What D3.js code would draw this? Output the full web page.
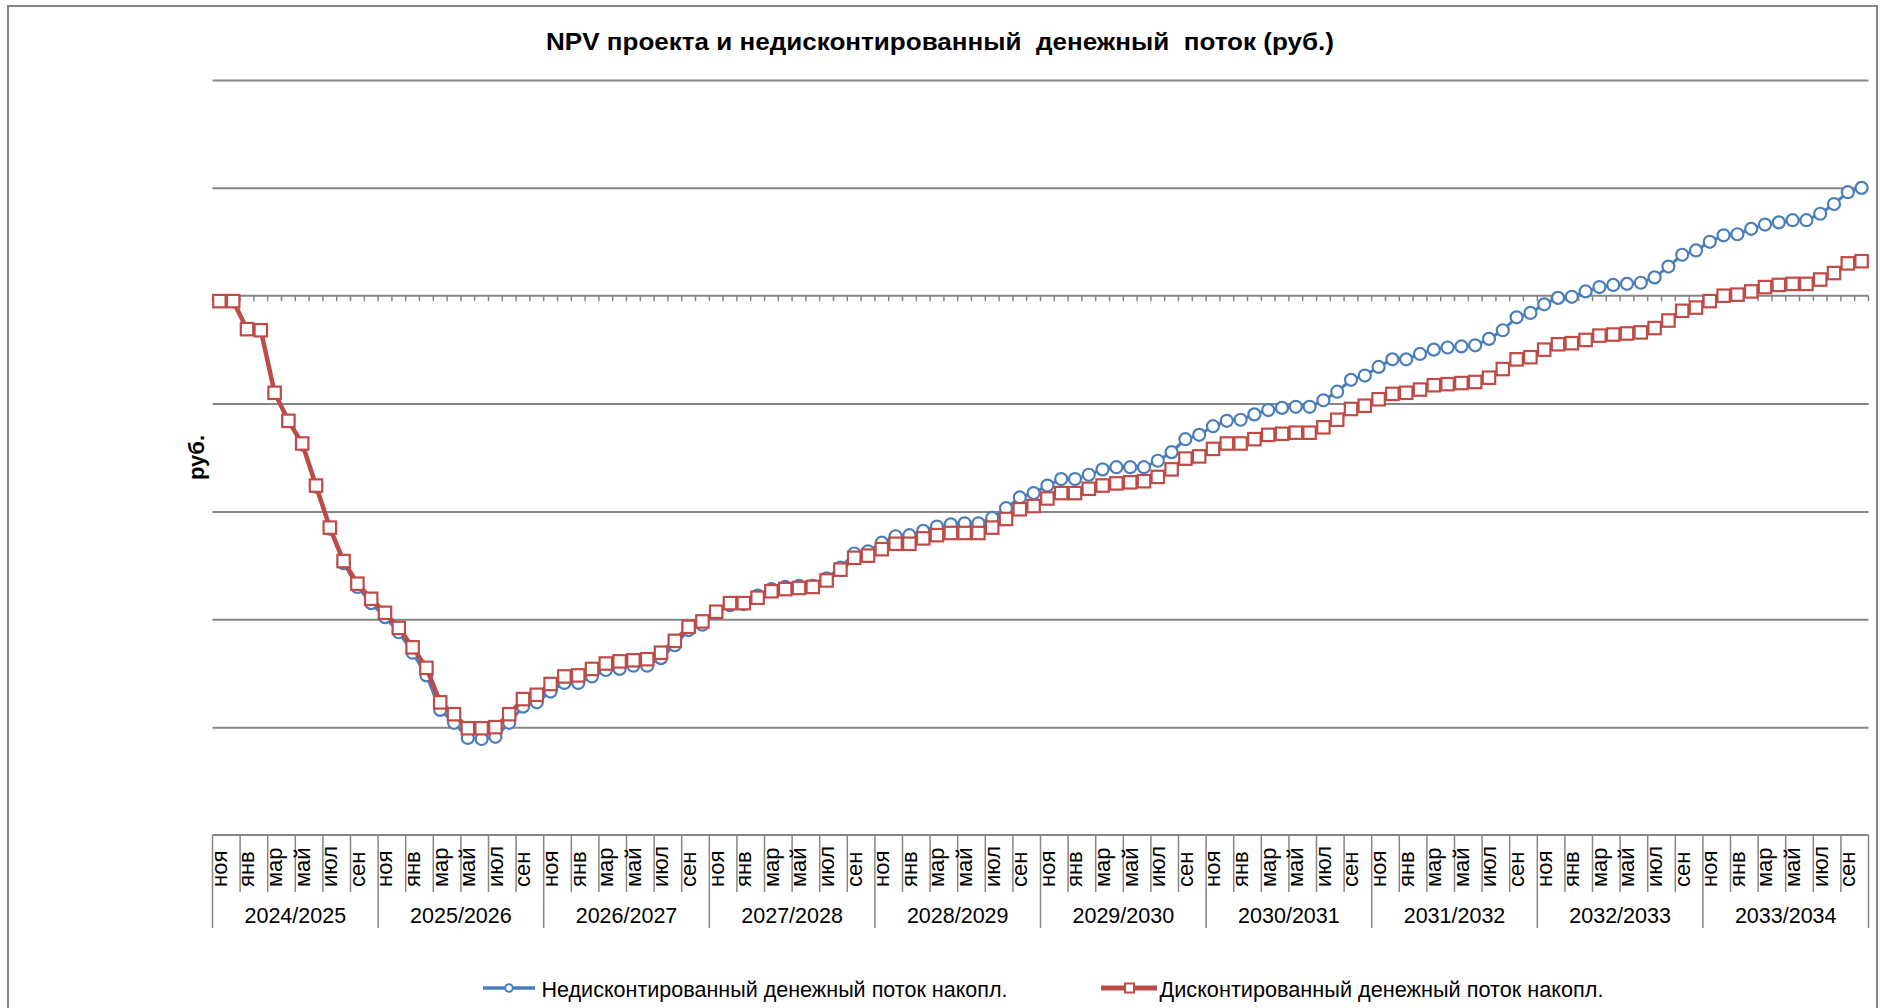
<!DOCTYPE html>
<html>
<head>
<meta charset="utf-8">
<script src="https://cdn.jsdelivr.net/npm/d3@7"></script>
<style>
  html, body { margin: 0; padding: 0; background: #ffffff; }
  svg { display: block; }
  text { font-family: "Liberation Sans", Arial, sans-serif; fill: #000; }
</style>
</head>
<body>
<svg id="chart" width="1880" height="1008"></svg>
<script>
// ---------------- DATA ----------------
const title = "NPV проекта и недисконтированный  денежный  поток (руб.)";
const yAxisTitle = "руб.";
const monthNames = ["ноя","дек","янв","фев","мар","апр","май","июн","июл","авг","сен","окт"];
const years = ["2024/2025","2025/2026","2026/2027","2027/2028","2028/2029",
               "2029/2030","2030/2031","2031/2032","2032/2033","2033/2034"];
const seriesNames = ["Недисконтированный денежный поток накопл.",
                     "Дисконтированный денежный поток накопл."];
// y gridlines (value units, labels hidden in the original)
const yTicks = [-5, -4, -3, -2, -1, 0, 1, 2];

// Cumulative undiscounted cash flow (120 months)
const undiscounted = [
 -0.05,-0.05,-0.31,-0.32,-0.90,-1.16,-1.38,-1.77,-2.16,-2.48,-2.70,-2.85,
 -2.98,-3.12,-3.31,-3.52,-3.84,-3.96,-4.10,-4.11,-4.09,-3.96,-3.81,-3.77,
 -3.67,-3.59,-3.59,-3.53,-3.47,-3.46,-3.43,-3.43,-3.36,-3.24,-3.10,-3.05,
 -2.94,-2.87,-2.86,-2.78,-2.72,-2.70,-2.69,-2.69,-2.62,-2.52,-2.39,-2.37,
 -2.29,-2.23,-2.22,-2.18,-2.14,-2.12,-2.11,-2.11,-2.06,-1.97,-1.87,-1.83,
 -1.76,-1.70,-1.70,-1.66,-1.61,-1.59,-1.59,-1.59,-1.53,-1.45,-1.33,-1.29,
 -1.21,-1.16,-1.15,-1.10,-1.06,-1.04,-1.03,-1.03,-0.97,-0.89,-0.78,-0.74,
 -0.66,-0.59,-0.59,-0.54,-0.50,-0.48,-0.47,-0.46,-0.40,-0.32,-0.20,-0.16,
 -0.08,-0.02,-0.01, 0.04, 0.08, 0.10, 0.11, 0.12, 0.17, 0.27, 0.38, 0.42,
  0.50, 0.56, 0.57, 0.62, 0.66, 0.68, 0.70, 0.70, 0.76, 0.85, 0.96, 1.00
];
// Cumulative discounted cash flow (120 months)
const discounted = [
 -0.05,-0.05,-0.31,-0.32,-0.90,-1.16,-1.37,-1.76,-2.15,-2.46,-2.67,-2.81,
 -2.94,-3.08,-3.26,-3.45,-3.77,-3.88,-4.01,-4.01,-4.00,-3.88,-3.74,-3.70,
 -3.60,-3.53,-3.52,-3.46,-3.41,-3.39,-3.38,-3.37,-3.31,-3.20,-3.07,-3.02,
 -2.93,-2.85,-2.85,-2.80,-2.74,-2.72,-2.71,-2.70,-2.64,-2.54,-2.43,-2.41,
 -2.35,-2.30,-2.30,-2.25,-2.22,-2.20,-2.20,-2.20,-2.15,-2.07,-1.98,-1.95,
 -1.88,-1.83,-1.83,-1.79,-1.76,-1.74,-1.73,-1.72,-1.68,-1.61,-1.51,-1.49,
 -1.42,-1.37,-1.37,-1.33,-1.29,-1.28,-1.27,-1.27,-1.22,-1.15,-1.05,-1.02,
 -0.96,-0.91,-0.90,-0.87,-0.83,-0.82,-0.81,-0.80,-0.76,-0.68,-0.59,-0.57,
 -0.50,-0.45,-0.44,-0.41,-0.37,-0.36,-0.35,-0.34,-0.30,-0.23,-0.14,-0.11,
 -0.05, 0.00, 0.01, 0.04, 0.08, 0.10, 0.11, 0.11, 0.15, 0.21, 0.30, 0.32
];

// ---------------- LAYOUT ----------------
const plot = { left: 212.5, right: 1868.5, top: 80, bottom: 835 };
const gridColor = "#868686";
const blue = "#4A7EBB", red = "#BE4B48";

const svg = d3.select("#chart");

const cats = d3.range(years.length * 12);
const x = d3.scaleBand().domain(cats).range([plot.left, plot.right]).padding(0);
const y = d3.scaleLinear().domain([d3.min(yTicks), d3.max(yTicks)]).range([plot.bottom, plot.top]);
const cx = i => x(i) + x.bandwidth() / 2;

// outer border
svg.append("rect")
  .attr("x", 8).attr("y", 6).attr("width", 1869).attr("height", 1100)
  .attr("fill", "none").attr("stroke", gridColor).attr("stroke-width", 2);

// title
svg.append("text")
  .attr("x", 940).attr("y", 50)
  .attr("text-anchor", "middle")
  .attr("font-size", 23).attr("font-weight", "bold")
  .style("white-space", "pre")
  .attr("textLength", 788).attr("lengthAdjust", "spacingAndGlyphs")
  .text(title);

// gridlines (via axis)
const gridAxis = d3.axisLeft(y).tickValues(yTicks.filter(v => v !== 0 && v !== d3.min(yTicks)))
  .tickSize(-(plot.right - plot.left)).tickFormat("");
const gg = svg.append("g").attr("transform", `translate(${plot.left},0)`).call(gridAxis);
gg.select(".domain").remove();
gg.selectAll(".tick line").attr("stroke", gridColor).attr("stroke-width", 2);

// zero axis with minor ticks at category boundaries
const y0 = y(0);
const zeroG = svg.append("g");
zeroG.append("line")
  .attr("x1", plot.left).attr("x2", plot.right).attr("y1", y0).attr("y2", y0)
  .attr("stroke", gridColor).attr("stroke-width", 2);
zeroG.selectAll("line.tk").data(d3.range(cats.length + 1)).join("line")
  .attr("class", "tk")
  .attr("x1", k => plot.left + k * x.bandwidth()).attr("x2", k => plot.left + k * x.bandwidth())
  .attr("y1", y0).attr("y2", y0 + 5.5)
  .attr("stroke", gridColor).attr("stroke-width", 1.5);

// bottom category axis
const axG = svg.append("g");
axG.append("line")
  .attr("x1", plot.left).attr("x2", plot.right).attr("y1", plot.bottom).attr("y2", plot.bottom)
  .attr("stroke", gridColor).attr("stroke-width", 2);
const seps = d3.range(0, cats.length + 1, 2);
axG.selectAll("line.sep").data(seps).join("line")
  .attr("class", "sep")
  .attr("x1", k => plot.left + k * x.bandwidth()).attr("x2", k => plot.left + k * x.bandwidth())
  .attr("y1", plot.bottom)
  .attr("y2", k => (k % 12 === 0) ? 928 : 892)
  .attr("stroke", gridColor).attr("stroke-width", 1.5);

// month labels (every 2nd month)
const labelIdx = cats.filter(i => i % 2 === 0);
axG.selectAll("text.month").data(labelIdx).join("text")
  .attr("class", "month")
  .attr("transform", i => `translate(${x(i) + x.bandwidth() + 0.5},887) rotate(-90)`)
  .attr("text-anchor", "start")
  .attr("font-size", 22)
  .text(i => monthNames[i % 12]);

// year labels
axG.selectAll("text.year").data(years).join("text")
  .attr("class", "year")
  .attr("x", (d, j) => plot.left + (j * 12 + 6) * x.bandwidth())
  .attr("y", 923)
  .attr("text-anchor", "middle")
  .attr("font-size", 21.5)
  .text(d => d);

// y axis title
svg.append("text")
  .attr("transform", `translate(204,${(plot.top + plot.bottom) / 2}) rotate(-90)`)
  .attr("text-anchor", "middle")
  .attr("font-size", 22).attr("font-weight", "bold")
  .text(yAxisTitle);

// series
const line = d3.line().x((d, i) => cx(i)).y(d => y(d));

// undiscounted (blue circles)
svg.append("path").datum(undiscounted)
  .attr("d", line).attr("fill", "none").attr("stroke", blue).attr("stroke-width", 3)
  .attr("stroke-linejoin", "round");
svg.append("g").selectAll("circle").data(undiscounted).join("circle")
  .attr("cx", (d, i) => cx(i)).attr("cy", d => y(d)).attr("r", 6)
  .attr("fill", "#fff").attr("stroke", blue).attr("stroke-width", 2.2);

// discounted (red squares)
svg.append("path").datum(discounted)
  .attr("d", line).attr("fill", "none").attr("stroke", red).attr("stroke-width", 4.5)
  .attr("stroke-linejoin", "round");
const sq = 12.4;
svg.append("g").selectAll("rect").data(discounted).join("rect")
  .attr("x", (d, i) => cx(i) - sq / 2).attr("y", d => y(d) - sq / 2)
  .attr("width", sq).attr("height", sq)
  .attr("fill", "#fff").attr("stroke", red).attr("stroke-width", 2.2);

// legend
const lg = svg.append("g");
const ly = 988;
lg.append("line").attr("x1", 483).attr("x2", 535).attr("y1", ly).attr("y2", ly)
  .attr("stroke", blue).attr("stroke-width", 3.5);
lg.append("circle").attr("cx", 509).attr("cy", ly).attr("r", 3.8)
  .attr("fill", "#fff").attr("stroke", blue).attr("stroke-width", 2);
lg.append("text").attr("x", 541.5).attr("y", 996.5).attr("font-size", 22)
  .attr("textLength", 466).attr("lengthAdjust", "spacingAndGlyphs")
  .text(seriesNames[0]);

lg.append("line").attr("x1", 1101).attr("x2", 1157).attr("y1", ly).attr("y2", ly)
  .attr("stroke", red).attr("stroke-width", 5);
lg.append("rect").attr("x", 1125).attr("y", ly - 4.5).attr("width", 9).attr("height", 9)
  .attr("fill", "#fff").attr("stroke", red).attr("stroke-width", 2);
lg.append("text").attr("x", 1159.5).attr("y", 996.5).attr("font-size", 22)
  .attr("textLength", 444).attr("lengthAdjust", "spacingAndGlyphs")
  .text(seriesNames[1]);
</script>
</body>
</html>
